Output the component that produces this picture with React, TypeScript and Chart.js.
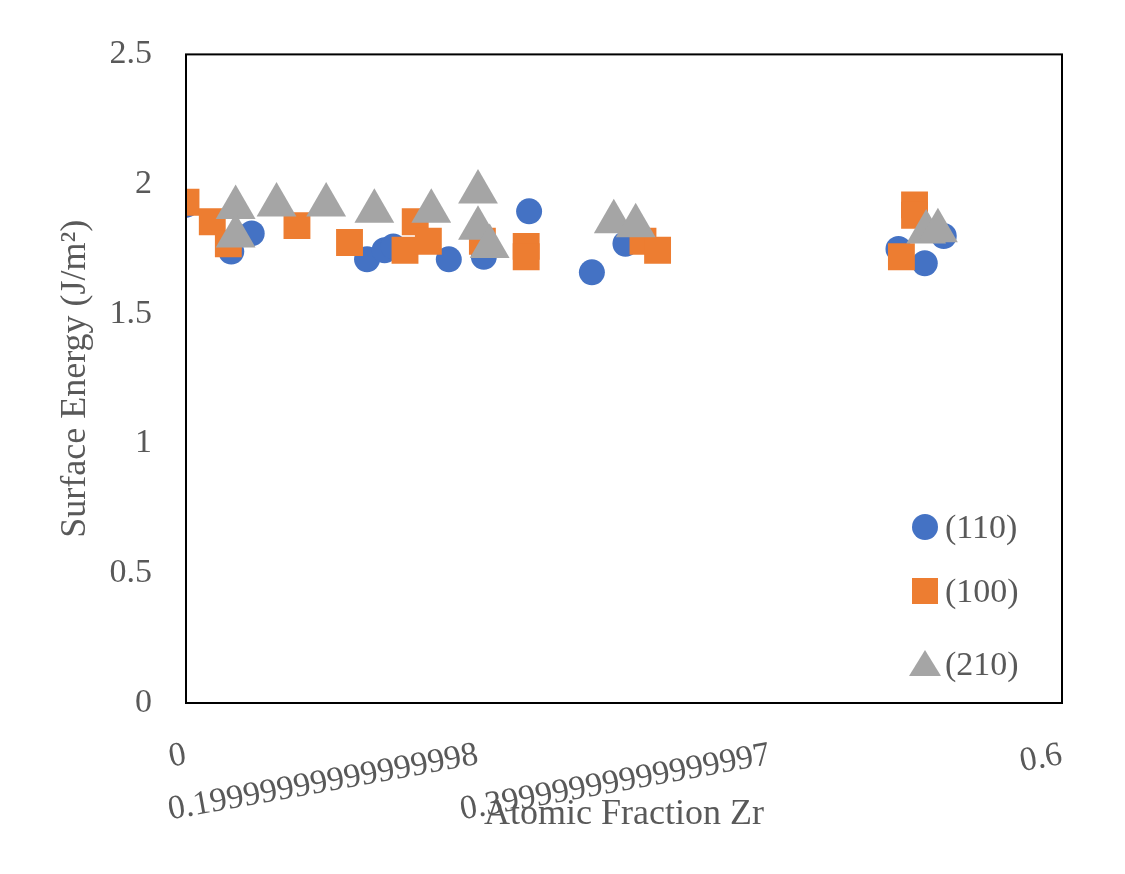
import { useEffect, useRef } from 'react';
import { Chart, registerables } from 'chart.js';

Chart.register(...registerables);

const s110x = [0, 0.031, 0.045, 0.124, 0.136, 0.142, 0.18, 0.204, 0.235, 0.278, 0.301, 0.488, 0.506, 0.519];
const s110y = [1.92, 1.74, 1.81, 1.71, 1.745, 1.76, 1.71, 1.72, 1.895, 1.66, 1.77, 1.75, 1.695, 1.8];
const s100x = [0, 0.018, 0.029, 0.076, 0.112, 0.157, 0.15, 0.166, 0.203, 0.233, 0.233, 0.313, 0.323, 0.499, 0.499, 0.49];
const s100y = [1.93, 1.855, 1.77, 1.84, 1.775, 1.855, 1.745, 1.78, 1.78, 1.76, 1.72, 1.78, 1.745, 1.92, 1.88, 1.72];
const s210x = [0.034, 0.034, 0.062, 0.096, 0.129, 0.168, 0.2, 0.2, 0.208, 0.293, 0.308, 0.507, 0.515];
const s210y = [1.91, 1.8, 1.92, 1.92, 1.895, 1.895, 1.97, 1.83, 1.76, 1.855, 1.84, 1.815, 1.82];

const series = [
  { label: '(110)', xs: s110x, ys: s110y, color: '#4472C4', style: 'circle', r: 13, order: 3 },
  { label: '(100)', xs: s100x, ys: s100y, color: '#ED7D31', style: 'rect', r: 19, order: 2 },
  { label: '(210)', xs: s210x, ys: s210y, color: '#A5A5A5', style: 'triangle', r: 23, order: 1 },
];

const FONT = '"Liberation Serif", "Times New Roman", serif';
const GREY = '#595959';

const frameAndLegend = {
  id: 'frameAndLegend',
  afterDraw(chart: Chart) {
    const { ctx, chartArea: a } = chart;
    ctx.save();
    ctx.strokeStyle = '#000';
    ctx.lineWidth = 2;
    ctx.strokeRect(a.left, a.top, a.right - a.left, a.bottom - a.top);
    const rows = [519, 583, 656];
    series.forEach((s, i) => {
      ctx.fillStyle = s.color;
      ctx.beginPath();
      if (s.style === 'circle') {
        ctx.arc(917, rows[i], 13, 0, Math.PI * 2);
      } else if (s.style === 'rect') {
        ctx.rect(904, rows[i] - 13, 26, 26);
      } else {
        ctx.moveTo(917, rows[i] - 14);
        ctx.lineTo(933, rows[i] + 12);
        ctx.lineTo(901, rows[i] + 12);
        ctx.closePath();
      }
      ctx.fill();
      ctx.fillStyle = GREY;
      ctx.font = `34px ${FONT}`;
      ctx.textBaseline = 'middle';
      ctx.fillText(s.label, 937, rows[i] + 2);
    });
    ctx.restore();
  },
};

export default function App() {
  const ref = useRef<HTMLCanvasElement>(null);

  useEffect(() => {
    if (!ref.current) return;
    const chart = new Chart(ref.current, {
      type: 'scatter',
      data: {
        datasets: series.map((s) => ({
          label: s.label,
          data: s.xs.map((x, i) => ({ x, y: s.ys[i] })),
          backgroundColor: s.color,
          borderColor: s.color,
          borderWidth: 0,
          pointStyle: s.style as any,
          pointRadius: s.r,
          order: s.order,
        })),
      },
      options: {
        animation: false,
        responsive: true,
        maintainAspectRatio: false,
        layout: { padding: { top: 34, right: 55, left: 42, bottom: 26 } },
        plugins: { legend: { display: false }, tooltip: { enabled: false } },
        scales: {
          x: {
            type: 'linear',
            min: 0,
            max: 0.6,
            grid: { display: false },
            border: { display: false },
            ticks: { stepSize: 0.2, color: GREY, font: { family: FONT, size: 34 }, padding: 24, callback: (v: any) => String(Number(v)) },
            title: { display: true, text: 'Atomic Fraction Zr', color: GREY, font: { family: FONT, size: 36 }, padding: { top: 8 } },
            afterFit: (sc: any) => { sc.height = 137; },
          },
          y: {
            min: 0,
            max: 2.5,
            grid: { display: false },
            border: { display: false },
            ticks: { stepSize: 0.5, color: GREY, font: { family: FONT, size: 34 }, padding: 26, callback: (v: any) => String(Number(v)) },
            title: { display: true, text: 'Surface Energy (J/m²)', color: GREY, font: { family: FONT, size: 36 } },
            afterFit: (sc: any) => { sc.width = 136; },
          },
        },
      },
      plugins: [frameAndLegend],
    });
    return () => chart.destroy();
  }, []);

  return (
    <div style={{ width: 1109, height: 858, background: '#fff' }}>
      <canvas ref={ref} />
    </div>
  );
}
